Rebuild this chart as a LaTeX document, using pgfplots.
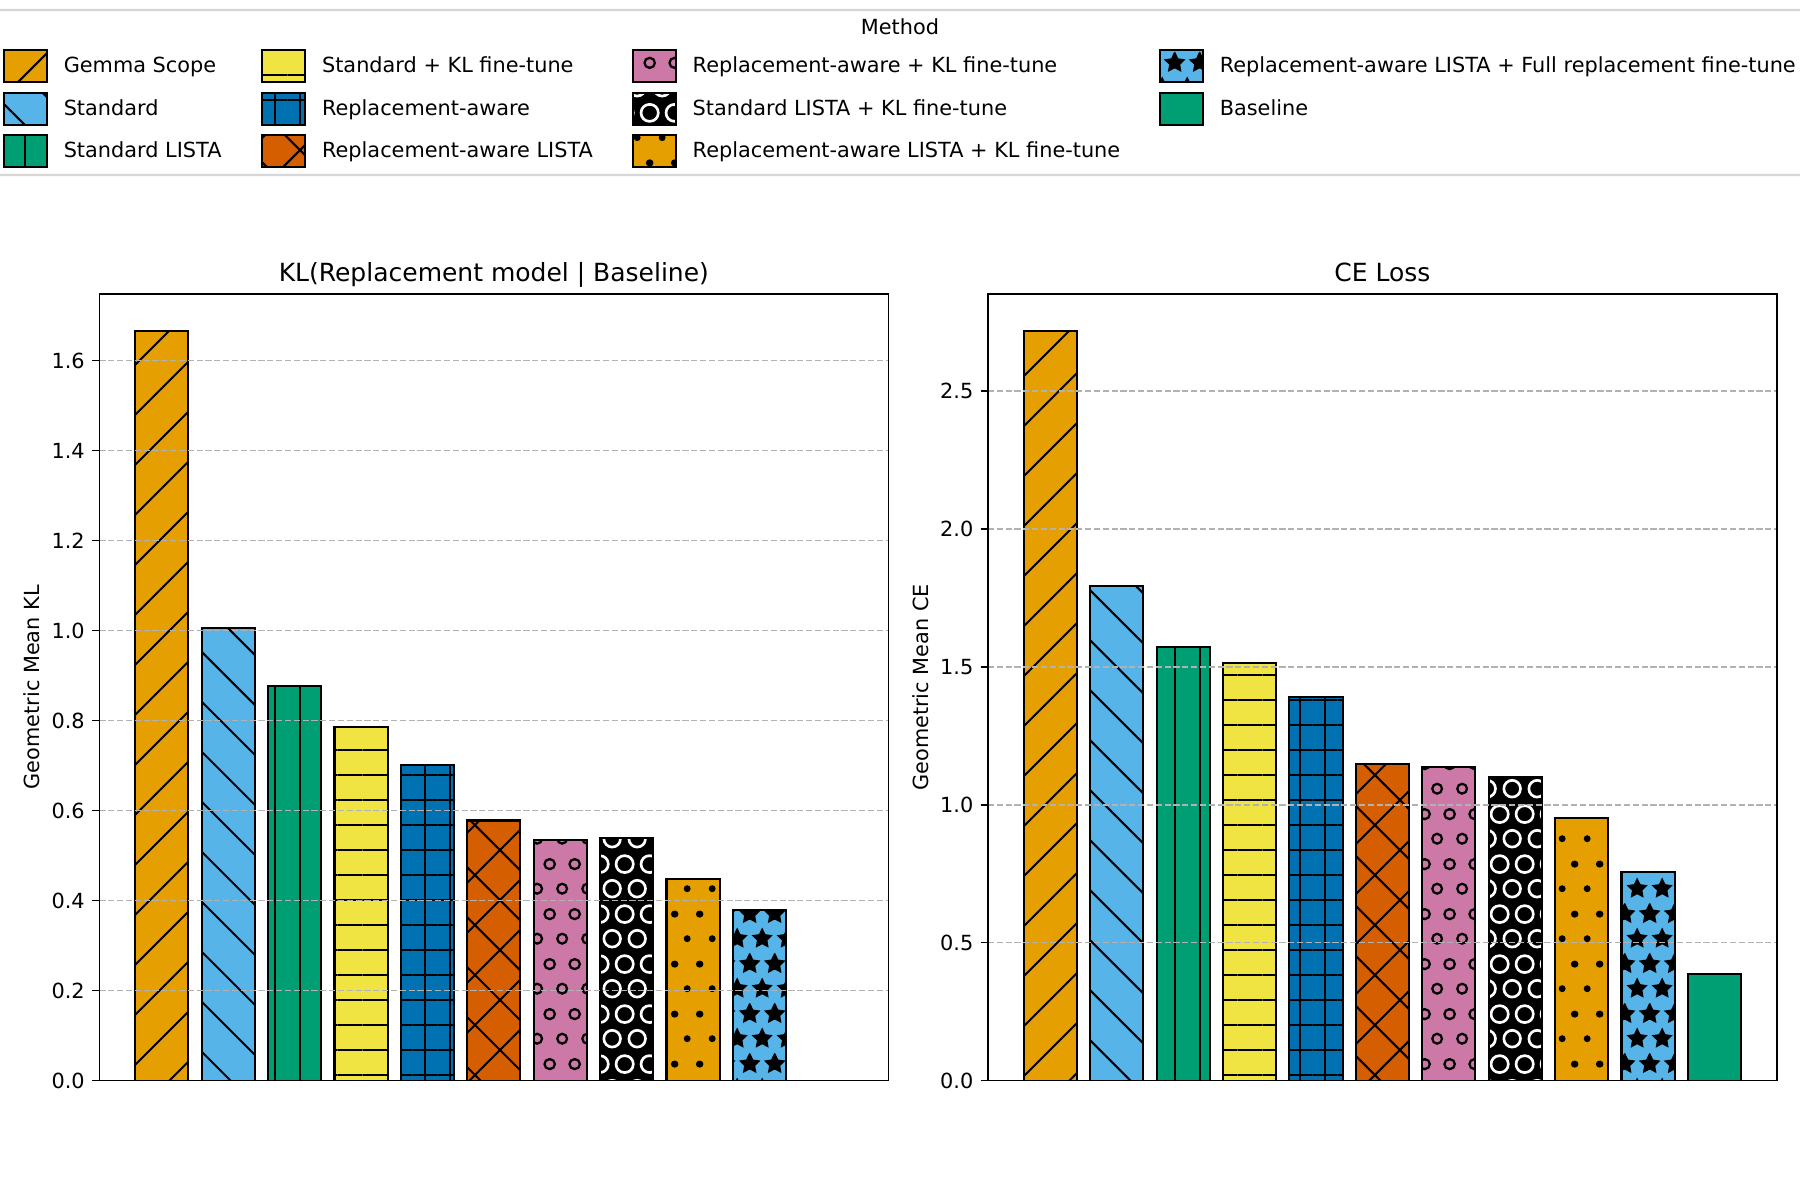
\documentclass[border=0pt]{standalone}
\usepackage{fontspec}
\setmainfont{DejaVu Sans}
\usepackage{pgfplots}
\pgfplotsset{compat=1.18}
\usetikzlibrary{patterns.meta}

\definecolor{cOrange}{HTML}{E69F00}
\definecolor{cSky}{HTML}{56B4E9}
\definecolor{cGreen}{HTML}{009E73}
\definecolor{cYellow}{HTML}{F0E442}
\definecolor{cBlue}{HTML}{0072B2}
\definecolor{cVerm}{HTML}{D55E00}
\definecolor{cPink}{HTML}{CC79A7}
\definecolor{gridgray}{RGB}{178,178,178}
\definecolor{leggray}{RGB}{214,214,214}

\tikzdeclarepattern{
  name=mplsmallcircles, type=uncolored,
  bottom left={(0pt,0pt)}, top right={(12pt,24pt)}, tile size={(12pt,24pt)},
  code={
    \draw[line width=1.1pt] (6pt,6pt) circle[radius=2.4pt];
    \draw[line width=1.1pt] (0pt,18pt) circle[radius=2.4pt];
    \draw[line width=1.1pt] (12pt,18pt) circle[radius=2.4pt];
  }
}
\tikzdeclarepattern{
  name=mplbigcircles, type=uncolored,
  bottom left={(0pt,0pt)}, top right={(12pt,24pt)}, tile size={(12pt,24pt)},
  code={
    \draw[line width=1.3pt] (6pt,6pt) circle[radius=4.1pt];
    \draw[line width=1.3pt] (0pt,18pt) circle[radius=4.1pt];
    \draw[line width=1.3pt] (12pt,18pt) circle[radius=4.1pt];
  }
}
\tikzdeclarepattern{
  name=mpldots, type=uncolored,
  bottom left={(0pt,0pt)}, top right={(12pt,24pt)}, tile size={(12pt,24pt)},
  code={
    \fill (6pt,6pt) circle[radius=1.7pt];
    \fill (0pt,18pt) circle[radius=1.7pt];
    \fill (12pt,18pt) circle[radius=1.7pt];
  }
}
\tikzdeclarepattern{
  name=mplstars, type=uncolored,
  bottom left={(0pt,0pt)}, top right={(12pt,24pt)}, tile size={(12pt,24pt)},
  code={
    \foreach \cx/\cy in {6pt/6pt,0pt/18pt,12pt/18pt}{
      \filldraw[line width=1pt, line join=miter, shift={(\cx,\cy)}]
        (90:4.3pt) -- (126:2.15pt) -- (162:4.3pt) -- (198:2.15pt) -- (234:4.3pt)
        -- (270:2.15pt) -- (306:4.3pt) -- (342:2.15pt) -- (18:4.3pt) -- (54:2.15pt) -- cycle;
    }
  }
}

% fill colours and hatch patterns (hatch drawn as a second layer over the colour)
\tikzset{
  fGemma/.style={fill=cOrange}, pGemma/.style={pattern color=black, pattern={Lines[angle=45,distance=16.97pt,line width=1pt]}},
  fStd/.style={fill=cSky},      pStd/.style={pattern color=black, pattern={Lines[angle=-45,distance=16.97pt,line width=1pt]}},
  fSL/.style={fill=cGreen},     pSL/.style={pattern color=black, pattern={Lines[angle=90,distance=12pt,line width=1pt]}},
  fSKL/.style={fill=cYellow},   pSKL/.style={pattern color=black, pattern={Lines[angle=0,distance=12pt,line width=1pt]}},
  fRA/.style={fill=cBlue},      pRA/.style={pattern color=black, pattern={Hatch[angle=0,distance=12pt,line width=1pt]}},
  fRAL/.style={fill=cVerm},     pRAL/.style={pattern color=black, pattern={Hatch[angle=45,distance=16.97pt,line width=1pt]}},
  fRAKL/.style={fill=cPink},    pRAKL/.style={pattern color=black, pattern=mplsmallcircles},
  fSLKL/.style={fill=black},    pSLKL/.style={pattern color=white, pattern=mplbigcircles},
  fRALKL/.style={fill=cOrange}, pRALKL/.style={pattern color=black, pattern=mpldots},
  fRALF/.style={fill=cSky},     pRALF/.style={pattern color=black, pattern=mplstars},
  fBase/.style={fill=cGreen},   pBase/.style={},
}

\pgfplotsset{
  mplaxis/.style={
    scale only axis, width=378.7pt, height=377.6pt, anchor=south west,
    xmin=-0.94, xmax=10.94, ymin=0,
    xtick=\empty, ytick pos=left, tick align=outside, major tick length=3.5pt,
    tick style={line width=0.8pt, black},
    axis line style={line width=0.8pt, black},
    ymajorgrids,
    grid style={dash pattern=on 2.96pt off 1.28pt, line width=0.8pt, color=gridgray},
    axis on top,
    yticklabel style={/pgf/number format/.cd, fixed, fixed zerofill, precision=1, assume math mode=true},
    tick label style={font=\fontsize{10}{12}\selectfont},
    every axis title/.style={at={(0.5,1)}, anchor=base, yshift=6pt, font=\fontsize{12}{14.4}\selectfont},
    every axis y label/.style={at={(axis description cs:-0.0853,0.5)}, rotate=90, anchor=center, font=\fontsize{10}{12}\selectfont},
  },
  onebar/.style={ybar, bar width=0.8, bar shift=0pt},
}

% one bar = colour fill, then hatch with black edge on top
\newcommand\mplbar[3]{%
  \addplot[onebar, draw=none, f#1] coordinates {(#2,#3)};
  \addplot[onebar, draw=black, line width=1pt, p#1] coordinates {(#2,#3)};
}

\newcommand\legentry[4]{%
  \path[f#3] (#1,#2-7.7pt) rectangle ++(20.5pt,15.4pt);
  \path[p#3] (#1,#2-7.7pt) rectangle ++(20.5pt,15.4pt);
  \draw[black, line width=1pt] (#1,#2-7.7pt) rectangle ++(20.5pt,15.4pt);
  \node[anchor=base west, inner sep=0pt, font=\fontsize{10}{12}\selectfont] at (#1+28.5pt,#2-3.2pt) {#4};
}

\begin{document}
\begin{tikzpicture}
\useasboundingbox (0,0) rectangle (864pt,576pt);

% ---------------- Left: KL ----------------
\begin{axis}[mplaxis, at={(47.7pt,57.3pt)},
  ymax=1.748, ytick={0,0.2,0.4,0.6,0.8,1.0,1.2,1.4,1.6},
  ylabel={Geometric Mean KL},
  title={KL(Replacement model | Baseline)}]
\mplbar{Gemma}{0}{1.665}
\mplbar{Std}{1}{1.006}
\mplbar{SL}{2}{0.877}
\mplbar{SKL}{3}{0.786}
\mplbar{RA}{4}{0.701}
\mplbar{RAL}{5}{0.578}
\mplbar{RAKL}{6}{0.535}
\mplbar{SLKL}{7}{0.540}
\mplbar{RALKL}{8}{0.448}
\mplbar{RALF}{9}{0.379}
\mplbar{Base}{10}{0}
\end{axis}

% ---------------- Right: CE ----------------
\begin{axis}[mplaxis, at={(474.2pt,57.3pt)},
  ymax=2.851, ytick={0,0.5,1.0,1.5,2.0,2.5},
  ylabel={Geometric Mean CE},
  title={CE Loss}]
\mplbar{Gemma}{0}{2.716}
\mplbar{Std}{1}{1.794}
\mplbar{SL}{2}{1.570}
\mplbar{SKL}{3}{1.513}
\mplbar{RA}{4}{1.389}
\mplbar{RAL}{5}{1.149}
\mplbar{RAKL}{6}{1.137}
\mplbar{SLKL}{7}{1.101}
\mplbar{RALKL}{8}{0.952}
\mplbar{RALF}{9}{0.757}
\mplbar{Base}{10}{0.386}
\end{axis}

% ---------------- Legend ----------------
\draw[leggray, fill=white, line width=1pt, rounded corners=2pt] (-6pt,492pt) rectangle (870pt,571.2pt);
\node[anchor=base, inner sep=0pt, font=\fontsize{10}{12}\selectfont] at (432pt,559.5pt) {Method};
\legentry{1.9pt}{544.3pt}{Gemma}{Gemma Scope}
\legentry{1.9pt}{523.8pt}{Std}{Standard}
\legentry{1.9pt}{503.4pt}{SL}{Standard LISTA}
\legentry{125.9pt}{544.3pt}{SKL}{Standard + KL fine-tune}
\legentry{125.9pt}{523.8pt}{RA}{Replacement-aware}
\legentry{125.9pt}{503.4pt}{RAL}{Replacement-aware LISTA}
\legentry{303.8pt}{544.3pt}{RAKL}{Replacement-aware + KL fine-tune}
\legentry{303.8pt}{523.8pt}{SLKL}{Standard LISTA + KL fine-tune}
\legentry{303.8pt}{503.4pt}{RALKL}{Replacement-aware LISTA + KL fine-tune}
\legentry{556.8pt}{544.3pt}{RALF}{Replacement-aware LISTA + Full replacement fine-tune}
\legentry{556.8pt}{523.8pt}{Base}{Baseline}
\end{tikzpicture}
\end{document}
